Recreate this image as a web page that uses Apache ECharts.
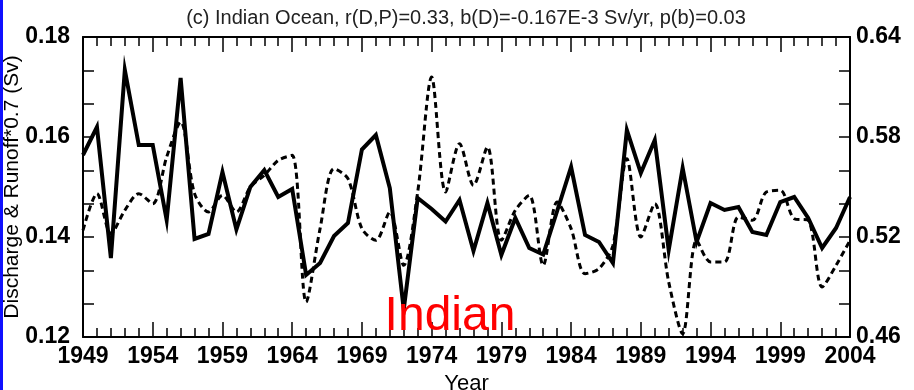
<!DOCTYPE html>
<html>
<head>
<meta charset="utf-8">
<script src="https://cdn.jsdelivr.net/npm/echarts@6/dist/echarts.min.js"></script>
<style>
  html, body { margin: 0; padding: 0; background: #fff; }
  #chart { width: 914px; height: 390px; }
</style>
</head>
<body>
<div id="chart"></div>
<script>
// Years of record
const years = [
  1949, 1950, 1951, 1952, 1953, 1954, 1955, 1956, 1957, 1958,
  1959, 1960, 1961, 1962, 1963, 1964, 1965, 1966, 1967, 1968,
  1969, 1970, 1971, 1972, 1973, 1974, 1975, 1976, 1977, 1978,
  1979, 1980, 1981, 1982, 1983, 1984, 1985, 1986, 1987, 1988,
  1989, 1990, 1991, 1992, 1993, 1994, 1995, 1996, 1997, 1998,
  1999, 2000, 2001, 2002, 2003, 2004
];

// Discharge & runoff*0.7 (Sv), left axis, solid line
const discharge = [
  0.1564, 0.1620, 0.1358, 0.1734, 0.1584, 0.1584, 0.1434, 0.1718, 0.1396, 0.1406,
  0.1530, 0.1415, 0.1500, 0.1534, 0.1480, 0.1496, 0.1324, 0.1348, 0.1402, 0.1428,
  0.1575, 0.1604, 0.1498, 0.1255, 0.1478, 0.1456, 0.1431, 0.1474, 0.1372, 0.1468,
  0.1364, 0.1438, 0.1378, 0.1365, 0.1452, 0.1540, 0.1404, 0.1390, 0.1348, 0.1614,
  0.1528, 0.1594, 0.1374, 0.1538, 0.1390, 0.1468, 0.1454, 0.1460, 0.1410, 0.1404,
  0.1470, 0.1480, 0.1438, 0.1378, 0.1418, 0.1480
];

// Precipitation (Sv), right axis, dashed line
const precip = [
  0.524, 0.546, 0.522, 0.536, 0.546, 0.540, 0.568, 0.589, 0.546, 0.535,
  0.545, 0.535, 0.550, 0.557, 0.566, 0.569, 0.481, 0.525, 0.561, 0.555,
  0.525, 0.518, 0.535, 0.503, 0.547, 0.616, 0.547, 0.576, 0.551, 0.574,
  0.518, 0.536, 0.545, 0.503, 0.541, 0.525, 0.498, 0.501, 0.515, 0.567,
  0.520, 0.540, 0.493, 0.462, 0.518, 0.505, 0.505, 0.532, 0.530, 0.547,
  0.548, 0.531, 0.530, 0.490, 0.503, 0.518
];

// Axis ranges
const yearRange = [1949, 2004];
const leftRange = [0.12, 0.18];
const rightRange = [0.46, 0.64];

const titleText = '(c) Indian Ocean, r(D,P)=0.33, b(D)=-0.167E-3 Sv/yr, p(b)=0.03';
const FONT = '"Liberation Sans", Arial, Helvetica, sans-serif';

const chart = echarts.init(document.getElementById('chart'), null, { renderer: 'canvas' });

const frameLine = { show: true, onZero: false, lineStyle: { color: '#000', width: 2 } };

function xAxisDef(pos, withLabels) {
  return {
    type: 'value',
    position: pos,
    min: yearRange[0],
    max: yearRange[1],
    interval: 5,
    axisLine: frameLine,
    axisTick: { show: true, inside: true, length: 15, lineStyle: { color: '#000', width: 1.5 } },
    minorTick: { show: true, splitNumber: 5, length: 9, lineStyle: { color: '#000', width: 1.5 } },
    splitLine: { show: false },
    minorSplitLine: { show: false },
    axisLabel: {
      show: withLabels,
      color: '#000',
      fontFamily: FONT,
      fontWeight: 'bold',
      fontSize: 23,
      margin: 8,
      formatter: v => String(Math.round(v))
    },
    name: withLabels ? 'Year' : '',
    nameLocation: 'middle',
    nameGap: 36,
    nameMoveOverlap: false,
    nameTextStyle: { color: '#000', fontFamily: FONT, fontSize: 22 }
  };
}

function yAxisDef(pos, range, interval, named, margin) {
  return {
    type: 'value',
    position: pos,
    min: range[0],
    max: range[1],
    interval: interval,
    axisLine: frameLine,
    axisTick: { show: true, inside: true, length: 11, lineStyle: { color: '#000', width: 1.5 } },
    minorTick: { show: true, splitNumber: 3, length: 11, lineStyle: { color: '#000', width: 1.5 } },
    splitLine: { show: false },
    minorSplitLine: { show: false },
    axisLabel: {
      color: '#000',
      fontFamily: FONT,
      fontWeight: 'bold',
      fontSize: 23,
      margin: margin,
      formatter: v => v.toFixed(2)
    },
    name: named ? 'Discharge & Runoff*0.7 (Sv)' : '',
    nameLocation: 'middle',
    nameRotate: 90,
    nameGap: 60,
    nameMoveOverlap: false,
    nameTextStyle: { color: '#000', fontFamily: FONT, fontSize: 21 }
  };
}

const option = {
  backgroundColor: '#fff',
  animation: false,
  grid: {
    left: 83, right: 64, top: 37, bottom: 53,
    containLabel: false,
    outerBoundsMode: 'none'
  },
  xAxis: [xAxisDef('bottom', true), xAxisDef('top', false)],
  yAxis: [
    yAxisDef('left', leftRange, 0.02, true, 13),
    yAxisDef('right', rightRange, 0.06, false, 6)
  ],
  series: [
    {
      name: 'Discharge',
      type: 'line',
      xAxisIndex: 0,
      yAxisIndex: 0,
      data: years.map((y, i) => [y, discharge[i]]),
      symbol: 'none',
      lineStyle: { color: '#000', width: 4, join: 'miter' },
      z: 3
    },
    {
      name: 'Precipitation',
      type: 'line',
      xAxisIndex: 0,
      yAxisIndex: 1,
      data: years.map((y, i) => [y, precip[i]]),
      symbol: 'none',
      smooth: 0.3,
      lineStyle: { color: '#000', width: 3, type: [6, 4] },
      z: 2
    }
  ],
  graphic: [
    {
      type: 'rect',
      left: 0, top: 0,
      shape: { x: 0, y: 0, width: 3, height: 390 },
      style: { fill: '#1010ff' }
    },
    {
      type: 'text',
      x: 466, y: 18,
      style: {
        text: titleText,
        fill: '#222',
        font: '20px ' + FONT,
        textAlign: 'center',
        textVerticalAlign: 'middle'
      }
    },
    {
      type: 'text',
      x: 450, y: 317,
      z: 10,
      style: {
        text: 'Indian',
        fill: '#ff0000',
        font: '48px ' + FONT,
        textAlign: 'center',
        textVerticalAlign: 'middle'
      }
    }
  ]
};

chart.setOption(option);
</script>
</body>
</html>
